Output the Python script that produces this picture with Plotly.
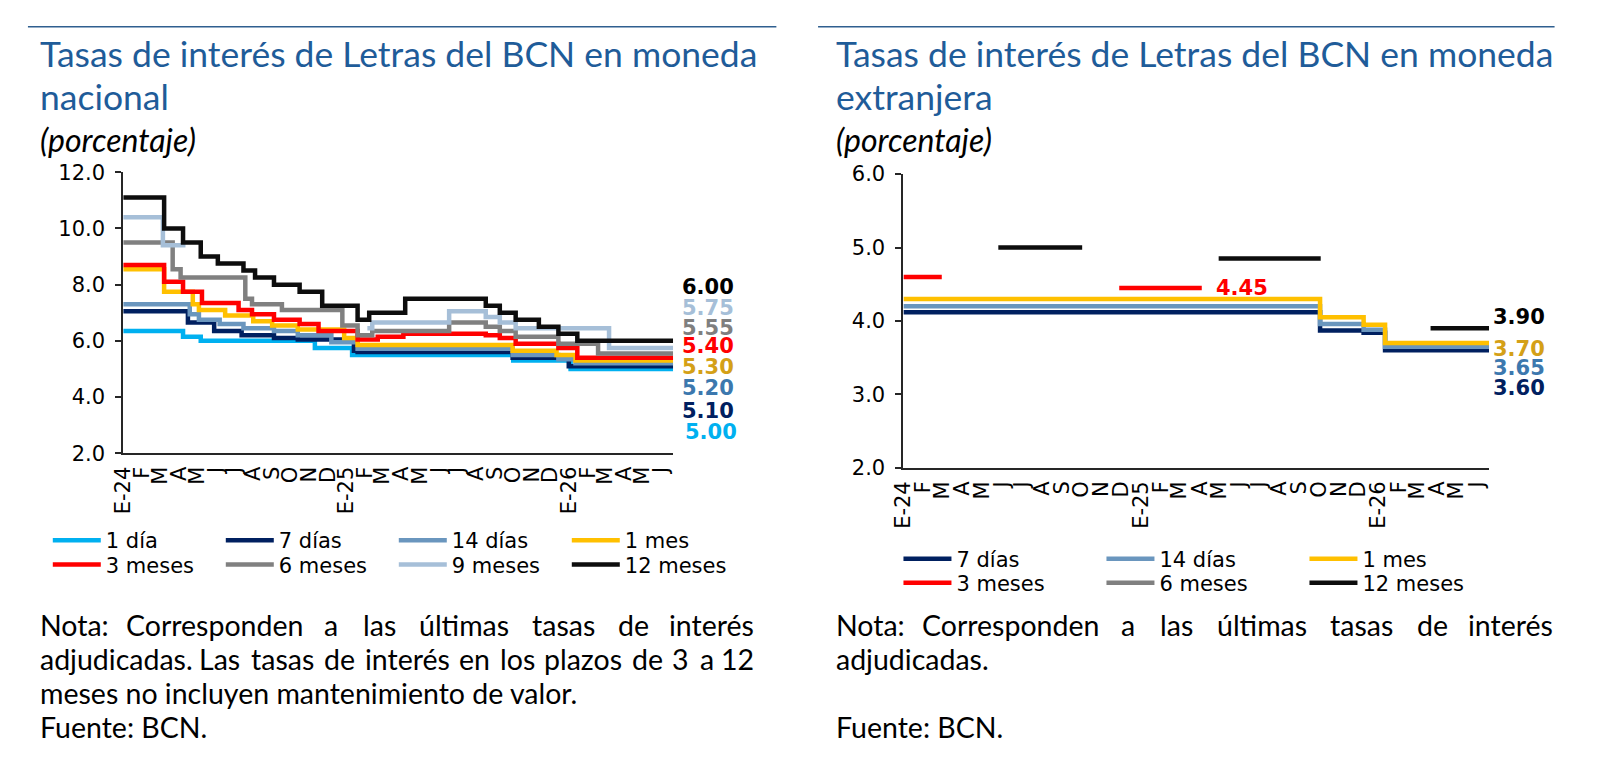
import pandas as pd
import plotly.graph_objects as go

W, H = 1624, 784

# eje de meses (E-24 ... J-26)
meses = pd.date_range("2024-01-01", "2026-06-01", freq="MS")
etiquetas_meses = ["E-24", "F", "M", "A", "M", "J", "J", "A", "S", "O", "N", "D",
                   "E-25", "F", "M", "A", "M", "J", "J", "A", "S", "O", "N", "D",
                   "E-26", "F", "M", "A", "M", "J"]
fin = "2026-06-20"

# ---- moneda nacional (cambios de tasa, escalonado) ----
nac_1dia_f = ["2024-01-01", "2024-04-08", "2024-05-07", "2024-11-10", "2025-01-10", "2025-10-01", "2026-01-03", fin]
nac_1dia_v = [6.35, 6.15, 6.00, 5.75, 5.50, 5.30, 5.00, 5.00]

nac_7dias_f = ["2024-01-01", "2024-04-16", "2024-05-29", "2024-07-13", "2024-09-04", "2024-10-13", "2025-01-13",
               "2025-01-19", "2025-09-30", "2025-12-31", fin]
nac_7dias_v = [7.05, 6.65, 6.35, 6.20, 6.10, 6.05, 5.65, 5.60, 5.40, 5.10, 5.10]

nac_14dias_f = ["2024-01-01", "2024-04-19", "2024-05-04", "2024-06-07", "2024-07-16", "2024-09-04", "2024-10-13",
                "2024-12-07", "2025-01-19", "2025-09-30", "2025-12-14", "2026-01-11", fin]
nac_14dias_v = [7.30, 6.95, 6.75, 6.60, 6.45, 6.35, 6.20, 5.95, 5.72, 5.50, 5.35, 5.20, 5.20]

nac_1mes_f = ["2024-01-01", "2024-03-08", "2024-04-24", "2024-05-04", "2024-06-16", "2024-08-01", "2024-09-01",
              "2024-10-13", "2024-12-28", "2025-01-19", "2025-09-30", "2025-12-11", "2026-01-11", fin]
nac_1mes_v = [8.55, 7.75, 7.30, 7.10, 6.90, 6.70, 6.55, 6.40, 6.10, 5.85, 5.65, 5.50, 5.30, 5.30]

nac_3meses_f = ["2024-01-01", "2024-03-08", "2024-04-08", "2024-05-09", "2024-07-08", "2024-07-30", "2024-09-04",
                "2024-10-16", "2024-11-16", "2025-01-19", "2025-02-21", "2025-04-04", "2025-08-17", "2025-09-09",
                "2025-10-05", "2025-12-14", "2026-01-14", fin]
nac_3meses_v = [8.70, 8.10, 7.75, 7.35, 7.10, 6.95, 6.75, 6.60, 6.35, 6.05, 6.15, 6.25, 6.20, 6.10,
                5.90, 5.75, 5.40, 5.40]

nac_6meses_f = ["2024-01-01", "2024-03-22", "2024-04-04", "2024-07-19", "2024-07-30", "2024-09-17", "2024-12-25",
                "2025-01-19", "2025-02-12", "2025-06-18", "2025-08-17", "2025-09-09", "2025-10-05", "2025-12-14",
                "2026-02-17", fin]
nac_6meses_v = [9.50, 8.55, 8.25, 7.50, 7.30, 7.10, 6.55, 6.20, 6.35, 6.65, 6.50, 6.35, 6.15, 5.90, 5.55, 5.55]

nac_9meses_f = ["2024-01-01", "2024-03-06", "2024-04-12", "2024-04-13", "2025-02-04", "2025-02-12", "2025-06-18",
                "2025-08-17", "2025-09-09", "2025-10-05", "2026-03-07", fin]
nac_9meses_v = [10.40, 9.40, 9.40, None, 6.45, 6.65, 7.05, 6.85, 6.65, 6.45, 5.75, 5.75]

nac_12meses_f = ["2024-01-01", "2024-03-08", "2024-04-08", "2024-05-07", "2024-06-04", "2024-07-16", "2024-08-04",
                 "2024-09-04", "2024-10-16", "2024-11-22", "2025-01-19", "2025-02-07", "2025-04-07", "2025-08-17",
                 "2025-09-09", "2025-10-05", "2025-11-12", "2025-12-14", "2026-01-14", fin]
nac_12meses_v = [11.10, 10.00, 9.50, 9.00, 8.75, 8.50, 8.25, 8.00, 7.75, 7.25, 6.75, 7.00, 7.50, 7.25,
                 7.00, 6.75, 6.50, 6.25, 6.00, 6.00]

# ---- moneda extranjera ----
ext_corto_f = ["2024-01-01", "2025-10-03", "2025-12-09", "2026-01-11", fin]
ext_7dias_v = [4.12, 3.87, 3.84, 3.60, 3.60]
ext_14dias_v = [4.20, 3.96, 3.88, 3.65, 3.65]
ext_1mes_v = [4.30, 4.05, 3.95, 3.70, 3.70]

ext_3meses_f = ["2024-01-01", "2024-02-29", "2024-03-01", "2024-11-28", "2025-04-04"]
ext_3meses_v = [4.60, 4.60, None, 4.45, 4.45]

ext_6meses_f = ["2024-01-01"]
ext_6meses_v = [None]

ext_12meses_f = ["2024-05-26", "2024-10-02", "2024-10-03", "2025-04-30", "2025-10-04", "2025-10-05", "2026-03-22", fin]
ext_12meses_v = [5.00, 5.00, None, 4.85, 4.85, None, 3.90, 3.90]

# colores
c_1dia, c_7d, c_14d, c_1m = "#00B0F0", "#002060", "#6A96BE", "#FFC000"
c_3m, c_6m, c_9m, c_12m = "#FF0000", "#808080", "#A6BFD8", "#0D0D0D"

TITLE_BLUE = "#1F5C99"
TXT_FONT = "Lato"
NUM_FONT = "DejaVu Sans"


def px(x):
    return x / W


def py(y):
    return 1 - y / H


fig = go.Figure()

nac = [
    ("1 día", nac_1dia_f, nac_1dia_v, c_1dia, "legend"),
    ("7 días", nac_7dias_f, nac_7dias_v, c_7d, "legend"),
    ("14 días", nac_14dias_f, nac_14dias_v, c_14d, "legend"),
    ("1 mes", nac_1mes_f, nac_1mes_v, c_1m, "legend"),
    ("3 meses", nac_3meses_f, nac_3meses_v, c_3m, "legend2"),
    ("6 meses", nac_6meses_f, nac_6meses_v, c_6m, "legend2"),
    ("9 meses", nac_9meses_f, nac_9meses_v, c_9m, "legend2"),
    ("12 meses", nac_12meses_f, nac_12meses_v, c_12m, "legend2"),
]
for name, f, v, col, leg in nac:
    fig.add_trace(go.Scatter(x=f, y=v, name=name, mode="lines", line=dict(color=col, width=4.5, shape="hv"),
                             connectgaps=False, legend=leg, xaxis="x", yaxis="y", hoverinfo="skip"))

ext = [
    ("7 días", ext_corto_f, ext_7dias_v, c_7d, "legend3"),
    ("14 días", ext_corto_f, ext_14dias_v, c_14d, "legend3"),
    ("1 mes", ext_corto_f, ext_1mes_v, c_1m, "legend3"),
    ("3 meses", ext_3meses_f, ext_3meses_v, c_3m, "legend4"),
    ("6 meses", ext_6meses_f, ext_6meses_v, c_6m, "legend4"),
    ("12 meses", ext_12meses_f, ext_12meses_v, c_12m, "legend4"),
]
for name, f, v, col, leg in ext:
    fig.add_trace(go.Scatter(x=f, y=v, name=name, mode="lines", line=dict(color=col, width=4.5, shape="hv"),
                             connectgaps=False, legend=leg, xaxis="x2", yaxis="y2", hoverinfo="skip"))

xcommon = dict(type="date", range=["2024-01-01", fin], tickvals=meses, ticktext=etiquetas_meses,
               tickangle=-90, showline=True, linecolor="#262626", linewidth=2, ticks="", ticklabelstandoff=3,
               tickfont=dict(family=NUM_FONT, size=21, color="#000"), showgrid=False, zeroline=False, fixedrange=True)
ycommon = dict(showline=True, linecolor="#262626", linewidth=2, ticks="outside", ticklen=6, tickwidth=1.5,
               tickcolor="#262626", tickformat=".1f", showgrid=False, zeroline=False, ticklabelstandoff=6,
               tickfont=dict(family=NUM_FONT, size=21, color="#000"), fixedrange=True)

legcommon = dict(orientation="h", xanchor="left", yanchor="middle", bgcolor="rgba(0,0,0,0)",
                 font=dict(family=NUM_FONT, size=21, color="#000"), entrywidthmode="pixels", itemwidth=48,
                 itemclick=False, itemdoubleclick=False, borderwidth=0, tracegroupgap=0)

fig.update_layout(
    width=W, height=H, margin=dict(l=0, r=0, t=0, b=0),
    paper_bgcolor="white", plot_bgcolor="white",
    xaxis=dict(domain=[px(104), px(658)], anchor="y", **xcommon),
    yaxis=dict(domain=[py(447), py(157)], anchor="x", range=[2, 12], dtick=2, **ycommon),
    xaxis2=dict(domain=[px(890), px(1480)], anchor="y2", **xcommon),
    yaxis2=dict(domain=[py(462), py(159)], anchor="x2", range=[2, 6], dtick=1, **ycommon),
    legend=dict(x=px(28), y=py(537), entrywidth=110, **legcommon),
    legend2=dict(x=px(28), y=py(562), entrywidth=110, **legcommon),
    legend3=dict(x=px(885), y=py(556), entrywidth=140, **legcommon),
    legend4=dict(x=px(885), y=py(581), entrywidth=140, **legcommon),
)

# rayas superiores
for x0, x1 in [(8, 762), (804, 1546)]:
    fig.add_shape(type="line", xref="paper", yref="paper", x0=px(x0), x1=px(x1), y0=py(7), y1=py(7),
                  line=dict(color="#2F5F8F", width=1.5))

ann = []


def texto(x, y, s, size, color="#000", family=TXT_FONT, anchor="left"):
    ann.append(dict(x=px(x), y=py(y), xref="paper", yref="paper", text=s, showarrow=False,
                    xanchor=anchor, yanchor="middle", font=dict(family=family, size=size, color=color)))


# anchos aproximados de caracteres (em) para repartir las palabras
anchos_em = {"i": .23, "l": .23, "j": .23, "f": .30, "t": .33, "r": .36, " ": .2, ".": .24, ":": .24,
             "s": .42, "c": .47, "z": .44, "m": .82, "w": .72, "N": .74, "C": .66, "L": .48}


def ancho(p, size):
    return sum(anchos_em.get(ch, .53) for ch in p) * size


def justificado(x0, x1, y, linea, size):
    palabras = linea.split()
    anchos = [ancho(p, size) for p in palabras]
    hueco = (x1 - x0 - sum(anchos)) / (len(palabras) - 1)
    pos = x0
    for i, (p, a) in enumerate(zip(palabras, anchos)):
        if i == 0:
            texto(x0, y, p, size)
        elif i == len(palabras) - 1:
            texto(x1, y, p, size, anchor="right")
        else:
            texto(pos + a / 2, y, p, size, anchor="center")
        pos += a + hueco


# titulos
texto(18, 35, "Tasas de interés de Letras del BCN en moneda", 35.5, TITLE_BLUE)
texto(18, 79, "nacional", 35.5, TITLE_BLUE)
texto(820, 35, "Tasas de interés de Letras del BCN en moneda", 35.5, TITLE_BLUE)
texto(820, 79, "extranjera", 35.5, TITLE_BLUE)
texto(18, 123, "<i>(porcentaje)</i>", 32)
texto(820, 123, "<i>(porcentaje)</i>", 32)

# notas
nota1 = "Nota: Corresponden a las últimas tasas de interés"
justificado(18, 741, 624, nota1, 28.5)
justificado(18, 741, 659, "adjudicadas. Las tasas de interés en los plazos de 3 a 12", 28.5)
texto(18, 694, "meses no incluyen mantenimiento de valor.", 28.5)
texto(18, 729, "Fuente: BCN.", 28.5)
justificado(820, 1546, 624, nota1, 28.5)
texto(820, 659, "adjudicadas.", 28.5)
texto(820, 729, "Fuente: BCN.", 28.5)

fig.update_layout(annotations=ann)

# etiquetas de ultimo valor (posiciones verticales separadas para que no se encimen)
nac_etq_y = [425, 403, 380, 358, 336, 318, 297, 275]
nac_etq_col = [c_1dia, c_7d, "#3C78AE", "#D4A017", c_3m, "#7F7F7F", c_9m, "#000000"]
for (name, f, v, col, leg), yy, ec in zip(nac, nac_etq_y, nac_etq_col):
    fig.add_annotation(x=px(665 if name != "1 día" else 668), y=py(yy), xref="paper", yref="paper",
                       text="<b>%.2f</b>" % v[-1], showarrow=False, xanchor="left", yanchor="middle",
                       font=dict(family=NUM_FONT, size=21, color=ec))

ext_etq = [(ext_7dias_v, 380, c_7d), (ext_14dias_v, 359, "#3C78AE"), (ext_1mes_v, 339, "#D4A017"),
           (ext_12meses_v, 306, "#000000")]
for v, yy, ec in ext_etq:
    fig.add_annotation(x=px(1482), y=py(yy), xref="paper", yref="paper", text="<b>%.2f</b>" % v[-1],
                       showarrow=False, xanchor="left", yanchor="middle",
                       font=dict(family=NUM_FONT, size=21, color=ec))

# 4.45 al final del tramo de 3 meses
fig.add_annotation(x=ext_3meses_f[-1], y=ext_3meses_v[-1], xref="x2", yref="y2", text="<b>%.2f</b>" % ext_3meses_v[-1],
                   showarrow=False, xanchor="left", yanchor="middle", xshift=12,
                   font=dict(family=NUM_FONT, size=21, color=c_3m))

fig.write_html("out.html")
